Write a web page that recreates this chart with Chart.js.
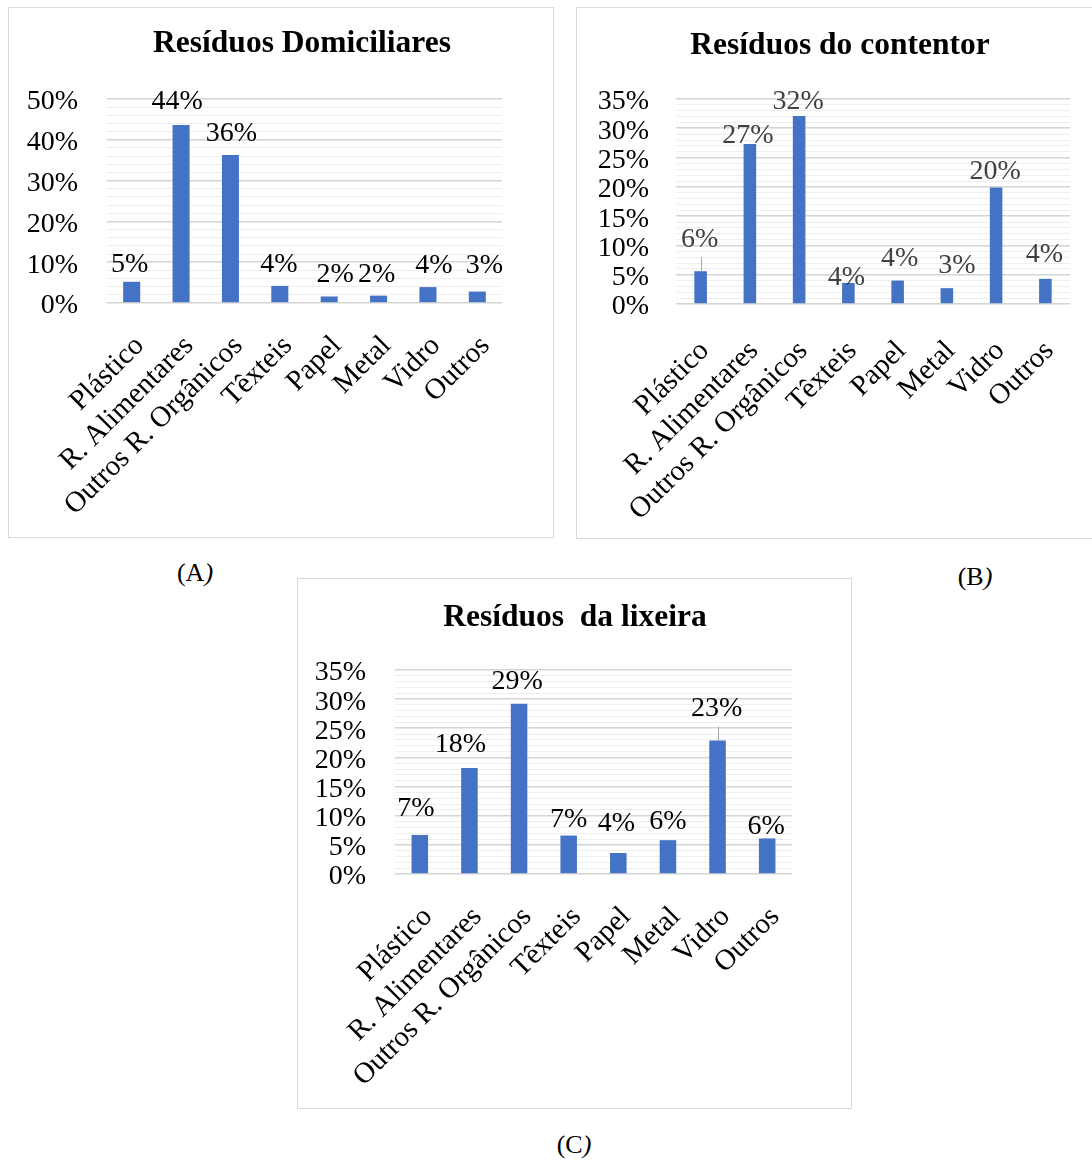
<!DOCTYPE html>
<html lang="pt">
<head>
<meta charset="utf-8">
<title>Composição dos resíduos</title>
<script src="https://cdn.jsdelivr.net/npm/chart.js@4.4.1/dist/chart.umd.min.js"></script>
<style>
  html, body { margin: 0; padding: 0; background: #fff; }
  body { position: relative; width: 1092px; height: 1160px; overflow: hidden;
         font-family: "Liberation Serif", "Times New Roman", serif; }
  .box { position: absolute; border: 1px solid #d9d9d9; box-sizing: border-box;
         background: #fff; overflow: hidden; }
  .box canvas { display: block; }
  .ttl, .cap { position: absolute; color: #000; white-space: pre;
               transform: translate(-50%, -50%); line-height: 1; }
  .ttl { font-size: 31.5px; font-weight: bold; }
  .cap { font-size: 26px; }
</style>
</head>
<body>

<div class="box" style="left:8px; top:7px; width:546px; height:531px;"><canvas id="chartA" width="544" height="529"></canvas></div>
<div class="box" style="left:576px; top:7px; width:516px; height:532px; border-right:none;"><canvas id="chartB" width="526" height="530"></canvas></div>
<div class="box" style="left:297px; top:578px; width:555px; height:531px;"><canvas id="chartC" width="553" height="529"></canvas></div>

<div class="ttl" id="titleA" style="left:302px; top:42px;"></div>
<div class="ttl" id="titleB" style="left:840px; top:44px;"></div>
<div class="ttl" id="titleC" style="left:575px; top:616px;"></div>

<div class="cap" style="left:195px; top:573px;">(A<i>)</i></div>
<div class="cap" style="left:975px; top:577px;">(B<i>)</i></div>
<div class="cap" style="left:574px; top:1145px;">(C<i>)</i></div>

<script>
// Categorias de resíduos (eixo X comum aos três gráficos)
const categories = ['Plástico', 'R. Alimentares', 'Outros R. Orgânicos', 'Têxteis', 'Papel', 'Metal', 'Vidro', 'Outros'];

// Percentagem de cada categoria
const domiciliares = [5.2, 43.6, 36.3, 4.2, 1.6, 1.8, 3.9, 2.8];
const contentor    = [5.6, 27.3, 32.1, 3.6, 4.0, 2.7, 19.9, 4.3];
const lixeira      = [6.7, 18.2, 29.2, 6.6, 3.6, 5.8, 22.9, 6.1];

// Marcas principais do eixo Y (%)
const ticksDomiciliares = [0, 10, 20, 30, 40, 50];
const ticksContentor    = [0, 5, 10, 15, 20, 25, 30, 35];
const ticksLixeira      = [0, 5, 10, 15, 20, 25, 30, 35];

const titles = ['Resíduos Domiciliares', 'Resíduos do contentor', 'Resíduos  da lixeira'];

const SERIF = '"Liberation Serif", "Times New Roman", serif';
const BAR_BLUE = '#4472C4';

// Rótulos de valor por cima das barras: [desvio x, altura acima do topo, linha guia]
const valueLabels = {
  id: 'valueLabels',
  afterDatasetsDraw(chart, args, opts) {
    const { ctx } = chart;
    const meta = chart.getDatasetMeta(0);
    const values = chart.data.datasets[0].data;
    ctx.save();
    ctx.font = opts.font;
    ctx.fillStyle = opts.color;
    ctx.textAlign = 'center';
    ctx.textBaseline = 'middle';
    meta.data.forEach((bar, i) => {
      const [dx, rise, leader] = opts.place[i];
      const x = bar.x + dx;
      const y = bar.y - rise;
      if (leader) {
        ctx.save();
        ctx.strokeStyle = '#a6a6a6';
        ctx.lineWidth = 1;
        ctx.beginPath();
        ctx.moveTo(Math.round(bar.x) + 0.5, y + 18);
        ctx.lineTo(Math.round(bar.x) + 0.5, bar.y);
        ctx.stroke();
        ctx.restore();
      }
      ctx.fillText(Math.round(values[i]) + '%', x, y);
    });
    ctx.restore();
  }
};

function buildChart(id, titleId, cfg) {
  document.getElementById(titleId).textContent = cfg.title;
  const majors = cfg.majors;
  const majorStep = majors[1] - majors[0];
  return new Chart(document.getElementById(id), {
    type: 'bar',
    data: {
      labels: categories,
      datasets: [{
        data: cfg.values,
        backgroundColor: BAR_BLUE,
        borderWidth: 0,
        categoryPercentage: 1,
        barPercentage: cfg.barPct
      }]
    },
    options: {
      responsive: false,
      animation: false,
      events: [],
      layout: { padding: { left: 0, right: cfg.padRight, top: cfg.padTop, bottom: 0 } },
      plugins: {
        legend: { display: false },
        tooltip: { enabled: false },
        title: { display: false },
        valueLabels: {
          font: '28px ' + SERIF,
          color: cfg.labelColor,
          place: cfg.place
        }
      },
      scales: {
        x: {
          grid: { display: false },
          border: { display: false },
          ticks: {
            color: '#000',
            font: { family: SERIF, size: 29 },
            minRotation: 45,
            maxRotation: 45,
            autoSkip: false,
            padding: cfg.xPad,
            labelOffset: cfg.xShift
          },
          afterFit(scale) { scale.height = cfg.xHeight; }
        },
        y: {
          min: 0,
          max: majors[majors.length - 1],
          border: { display: false },
          grid: {
            drawTicks: false,
            color: c => (c.tick && c.tick.value % majorStep === 0) ? '#d4d4d4' : '#eeeeee',
            lineWidth: c => (c.tick && c.tick.value % majorStep === 0) ? 1.6 : 1
          },
          ticks: {
            stepSize: cfg.minorStep,
            autoSkip: false,
            color: '#000',
            font: { family: SERIF, size: 28 },
            padding: cfg.yPad,
            labelOffset: 3,
            callback: v => majors.includes(v) ? v + '%' : ''
          },
          afterFit(scale) { scale.width = cfg.yWidth; }
        }
      }
    },
    plugins: [valueLabels]
  });
}

buildChart('chartA', 'titleA', {
  title: titles[0], values: domiciliares, majors: ticksDomiciliares, minorStep: 2,
  barPct: 0.345, padRight: 51, padTop: 91, yWidth: 98, yPad: 29, xHeight: 234, xPad: 18, xShift: 8,
  labelColor: '#000',
  place: [[-2, 17, false], [-4, 23, false], [1, 21, false], [-1, 21, false],
          [6, 22, false], [-2, 21, false], [6, 21, false], [7, 26, false]]
});

buildChart('chartB', 'titleB', {
  title: titles[1], values: contentor, majors: ticksContentor, minorStep: 1,
  barPct: 0.255, padRight: 33, padTop: 91, yWidth: 99, yPad: 27, xHeight: 234, xPad: 22, xShift: 4,
  labelColor: '#404040',
  place: [[-1, 32, true], [-2, 8, false], [-1, 14, false], [-2, 5, false],
          [2, 22, false], [10, 23, false], [-1, 16, false], [-1, 24, false]]
});

buildChart('chartC', 'titleC', {
  title: titles[2], values: lixeira, majors: ticksLixeira, minorStep: 1,
  barPct: 0.333, padRight: 59, padTop: 91, yWidth: 97, yPad: 29, xHeight: 234, xPad: 18, xShift: 8,
  labelColor: '#000',
  place: [[-4, 26, false], [-9, 23, false], [-2, 22, false], [0, 16, false],
          [-2, 29, false], [0, 19, false], [-1, 32, true], [-1, 12, false]]
});
</script>
</body>
</html>
